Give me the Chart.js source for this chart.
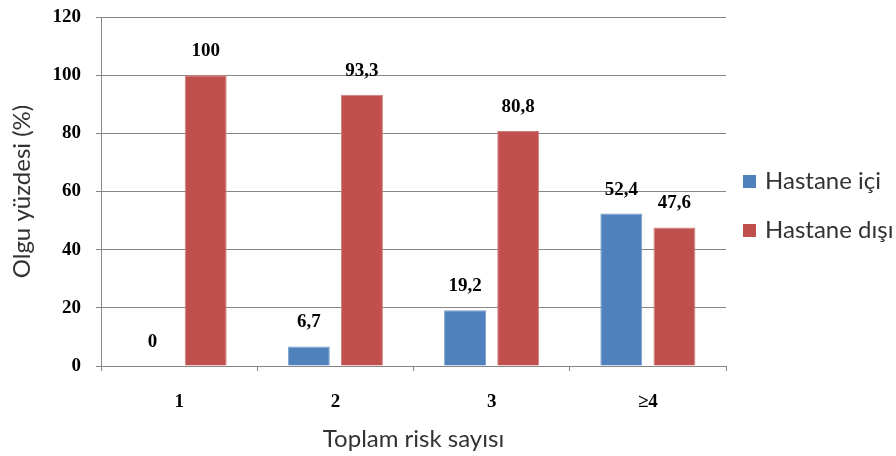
<!DOCTYPE html>
<html>
<head>
<meta charset="utf-8">
<script src="https://cdn.jsdelivr.net/npm/chart.js@4/dist/chart.umd.min.js"></script>
<style>
  html, body { margin: 0; padding: 0; background: #fff; }
  #wrap { width: 896px; height: 456px; position: relative; }
</style>
</head>
<body>
<div id="wrap"><canvas id="c" width="896" height="456"></canvas></div>
<script>
// Risk groups on the x axis
const categories = ['1', '2', '3', '\u22654'];
// Share of cases (%) per group
const hastaneIci = [0, 6.7, 19.2, 52.4];
const hastaneDisi = [100, 93.3, 80.8, 47.6];
const seriesNames = ['Hastane i\u00e7i', 'Hastane d\u0131\u015f\u0131'];
const yTicks = [0, 20, 40, 60, 80, 100, 120];

const SANS = 'Lato, "Open Sans", "DejaVu Sans", sans-serif';
const NUM = '"Liberation Serif", "DejaVu Serif", serif';
const BLUE = '#4F81BD';
const RED = '#C0504D';

// Value labels above each bar, Turkish decimal comma
const valueLabels = {
  id: 'valueLabels',
  afterDatasetsDraw(chart) {
    const ctx = chart.ctx;
    ctx.save();
    ctx.font = 'bold 19px ' + NUM;
    ctx.fillStyle = '#000';
    ctx.textAlign = 'center';
    ctx.textBaseline = 'middle';
    chart.data.datasets.forEach((ds, di) => {
      const meta = chart.getDatasetMeta(di);
      meta.data.forEach((bar, i) => {
        const txt = String(ds.data[i]).replace('.', ',');
        ctx.fillText(txt, bar.x, bar.y - 24);
      });
    });
    ctx.restore();
  }
};

// Legend to the right of the plot
const sideLegend = {
  id: 'sideLegend',
  afterDraw(chart) {
    const ctx = chart.ctx;
    ctx.save();
    ctx.font = '24px ' + SANS;
    ctx.textBaseline = 'middle';
    ctx.textAlign = 'left';
    const ys = [181, 230];
    chart.data.datasets.forEach((ds, di) => {
      const y = ys[di];
      ctx.fillStyle = ds.backgroundColor;
      ctx.fillRect(743, y - 6, 13, 13);
      ctx.fillStyle = '#333';
      ctx.fillText(ds.label, 765, y);
    });
    ctx.restore();
  }
};

new Chart(document.getElementById('c'), {
  type: 'bar',
  data: {
    labels: categories,
    datasets: [
      { label: seriesNames[0], data: hastaneIci, backgroundColor: BLUE, borderColor: '#7aa0cc', borderWidth: 1,
        categoryPercentage: 0.68, barPercentage: 0.79 },
      { label: seriesNames[1], data: hastaneDisi, backgroundColor: RED, borderColor: '#d07f7c', borderWidth: 1,
        categoryPercentage: 0.68, barPercentage: 0.79 }
    ]
  },
  options: {
    responsive: false,
    animation: false,
    devicePixelRatio: 1,
    layout: { padding: { left: 0, right: 170, top: 17, bottom: 0 } },
    plugins: {
      legend: { display: false },
      tooltip: { enabled: false }
    },
    scales: {
      x: {
        grid: { display: true, drawOnChartArea: false, color: '#868686', tickLength: 5, offset: true },
        border: { color: '#868686', width: 1 },
        ticks: { color: '#000', font: { family: NUM, size: 19, weight: 'bold' }, padding: 20 },
        title: { display: true, text: 'Toplam risk say\u0131s\u0131', color: '#333',
                 font: { family: SANS, size: 24 }, padding: { top: 4, bottom: 2 } },
        afterFit(scale) { scale.height = 90; scale.paddingLeft = 0; scale.paddingRight = 0; }
      },
      y: {
        min: 0, max: 120,
        afterBuildTicks(scale) { scale.ticks = yTicks.map(v => ({ value: v })); },
        grid: { color: '#868686', tickLength: 5 },
        border: { color: '#868686', width: 1 },
        ticks: { color: '#000', font: { family: NUM, size: 19, weight: 'bold' }, padding: 15 },
        title: { display: true, text: 'Olgu y\u00fczdesi (%)', color: '#333',
                 font: { family: SANS, size: 24 }, padding: { top: 8, bottom: 4 } },
        afterFit(scale) { scale.width = 101; scale.paddingTop = 0; scale.paddingBottom = 0; }
      }
    }
  },
  plugins: [valueLabels, sideLegend]
});
</script>
</body>
</html>
